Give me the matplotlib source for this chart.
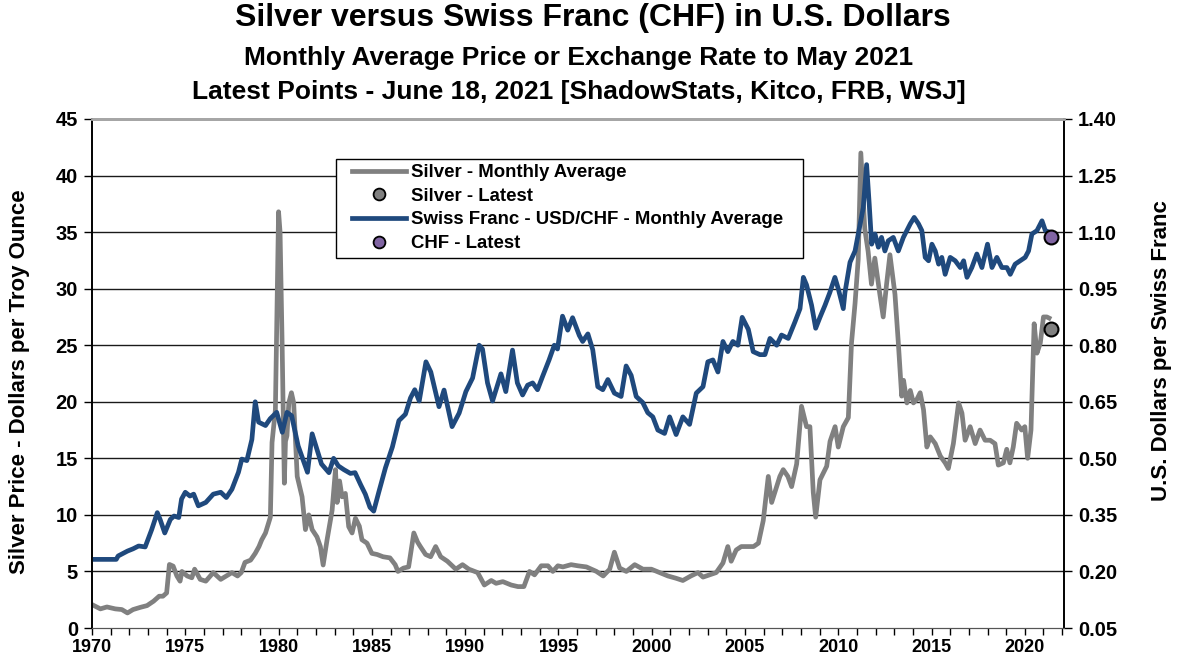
import matplotlib
matplotlib.use("Agg")
import matplotlib.pyplot as plt
from matplotlib.lines import Line2D
from matplotlib.patches import Rectangle

plt.rcParams['font.family'] = ['Liberation Sans', 'DejaVu Sans']
plt.rcParams['font.weight'] = 'bold'

# silver monthly average, dollars per troy ounce (decimal year, value)
silver_t = [1970.0, 1970.45, 1970.8, 1971.25, 1971.6, 1971.9, 1972.2, 1972.6, 1972.95, 1973.3,
            1973.6, 1973.8, 1974.0, 1974.15, 1974.35, 1974.55, 1974.72, 1974.82, 1975.1, 1975.35,
            1975.5, 1975.8, 1976.1, 1976.5, 1976.9, 1977.2, 1977.5, 1977.8, 1978.0, 1978.2,
            1978.5, 1978.75, 1978.95, 1979.1, 1979.3, 1979.56, 1979.65, 1979.83, 1980.0, 1980.08,
            1980.19, 1980.31, 1980.37, 1980.45, 1980.55, 1980.69, 1980.81, 1981.0, 1981.26, 1981.44,
            1981.62, 1981.8, 1982.06, 1982.24, 1982.39, 1982.6, 1982.87, 1983.05, 1983.14, 1983.27,
            1983.4, 1983.58, 1983.76, 1983.94, 1984.12, 1984.33, 1984.47, 1984.74, 1985.0, 1985.28,
            1985.6, 1985.97, 1986.25, 1986.4, 1986.7, 1986.97, 1987.25, 1987.45, 1987.6, 1987.88,
            1988.15, 1988.42, 1988.69, 1989.05, 1989.5, 1989.86, 1990.2, 1990.67, 1991.03, 1991.4,
            1991.66, 1992.02, 1992.47, 1992.83, 1993.15, 1993.45, 1993.72, 1994.08, 1994.44, 1994.7,
            1994.97, 1995.24, 1995.68, 1996.04, 1996.5, 1997.04, 1997.4, 1997.75, 1998.0, 1998.28,
            1998.64, 1999.09, 1999.53, 1999.98, 2000.42, 2000.87, 2001.3, 2001.67, 2002.1, 2002.48,
            2002.75, 2003.1, 2003.46, 2003.82, 2004.08, 2004.26, 2004.53, 2004.8, 2005.0, 2005.46,
            2005.72, 2005.98, 2006.25, 2006.43, 2006.6, 2006.87, 2007.05, 2007.3, 2007.5, 2007.77,
            2008.03, 2008.3, 2008.48, 2008.66, 2008.79, 2009.02, 2009.2, 2009.38, 2009.56, 2009.83,
            2010.0, 2010.27, 2010.54, 2010.71, 2010.9, 2011.07, 2011.21, 2011.42, 2011.6, 2011.78,
            2011.96, 2012.23, 2012.41, 2012.59, 2012.77, 2013.04, 2013.22, 2013.4, 2013.5, 2013.68,
            2013.86, 2014.03, 2014.21, 2014.39, 2014.57, 2014.75, 2014.93, 2015.2, 2015.47, 2015.73,
            2015.9, 2016.17, 2016.45, 2016.63, 2016.8, 2017.07, 2017.34, 2017.6, 2017.87, 2018.14,
            2018.4, 2018.58, 2018.85, 2019.03, 2019.2, 2019.38, 2019.56, 2019.83, 2020.0, 2020.15,
            2020.33, 2020.5, 2020.65, 2020.83, 2021.0, 2021.18, 2021.3]
silver_v = [2.07, 1.69, 1.86, 1.69, 1.63, 1.33, 1.63, 1.83, 1.98, 2.37,
            2.81, 2.81, 3.1, 5.62, 5.47, 4.6, 4.14, 5.0, 4.6, 4.44,
            5.2, 4.3, 4.14, 4.9, 4.3, 4.6, 4.9, 4.6, 4.9, 5.8,
            6.0, 6.6, 7.2, 7.8, 8.4, 9.8, 16.4, 19.3, 36.8, 35.0,
            25.2, 12.8, 16.5, 17.0, 19.9, 20.8, 19.9, 13.4, 11.6, 8.7,
            10.0, 8.7, 8.05, 7.2, 5.57, 7.8, 10.4, 14.0, 11.1, 13.0,
            11.6, 11.9, 8.96, 8.4, 9.7, 9.0, 7.8, 7.5, 6.6, 6.5,
            6.3, 6.2, 5.6, 5.0, 5.3, 5.4, 8.4, 7.6, 7.2, 6.5,
            6.3, 7.2, 6.3, 5.9, 5.2, 5.6, 5.2, 4.9, 3.8, 4.2,
            3.95, 4.1, 3.8, 3.66, 3.66, 5.0, 4.7, 5.5, 5.5, 5.0,
            5.5, 5.4, 5.6, 5.5, 5.4, 5.0, 4.6, 5.2, 6.7, 5.3,
            5.0, 5.6, 5.2, 5.2, 4.9, 4.6, 4.4, 4.2, 4.6, 4.9,
            4.5, 4.7, 4.9, 5.75, 7.2, 5.9, 6.9, 7.2, 7.2, 7.2,
            7.5, 9.5, 13.4, 11.1, 12.0, 13.4, 14.0, 13.4, 12.5, 14.5,
            19.6, 17.8, 17.8, 12.0, 9.8, 13.1, 13.7, 14.3, 16.5, 17.8,
            16.0, 17.8, 18.6, 25.2, 28.7, 32.6, 42.0, 35.3, 33.3, 30.4,
            32.7, 29.5, 27.5, 30.4, 33.0, 29.5, 25.2, 20.5, 21.9, 19.9,
            21.0, 19.9, 20.2, 20.8, 19.3, 16.0, 16.9, 16.3, 15.2, 14.6,
            14.1, 16.3, 19.9, 19.0, 16.6, 17.8, 16.3, 17.5, 16.6, 16.6,
            16.3, 14.4, 14.6, 15.8, 14.6, 16.0, 18.1, 17.5, 17.8, 15.0,
            17.5, 26.9, 24.3, 25.2, 27.5, 27.5, 27.4]

# Swiss franc, USD per CHF, monthly average (decimal year, value)
chf_t = [1970.0, 1971.3, 1971.4, 1971.9, 1972.2, 1972.5, 1972.85, 1973.0, 1973.2, 1973.5,
         1973.65, 1973.9, 1974.2, 1974.4, 1974.65, 1974.8, 1975.0, 1975.25, 1975.45, 1975.7,
         1976.1, 1976.5, 1976.9, 1977.2, 1977.5, 1977.85, 1978.03, 1978.3, 1978.57, 1978.75,
         1978.93, 1979.3, 1979.55, 1979.9, 1980.2, 1980.45, 1980.7, 1981.05, 1981.3, 1981.55,
         1981.8, 1982.05, 1982.3, 1982.7, 1982.95, 1983.2, 1983.5, 1983.85, 1984.1, 1984.4,
         1984.65, 1984.9, 1985.1, 1985.37, 1985.73, 1986.1, 1986.45, 1986.8, 1987.07, 1987.3,
         1987.54, 1987.9, 1988.16, 1988.6, 1988.87, 1989.3, 1989.68, 1990.04, 1990.4, 1990.75,
         1990.93, 1991.2, 1991.47, 1991.92, 1992.18, 1992.54, 1992.8, 1993.08, 1993.35, 1993.62,
         1993.88, 1994.15, 1994.5, 1994.78, 1994.95, 1995.22, 1995.5, 1995.76, 1996.12, 1996.3,
         1996.58, 1996.84, 1997.11, 1997.38, 1997.65, 1998.0, 1998.36, 1998.63, 1998.9, 1999.17,
         1999.52, 1999.79, 2000.06, 2000.33, 2000.69, 2000.96, 2001.31, 2001.67, 2002.03, 2002.39,
         2002.75, 2003.01, 2003.28, 2003.55, 2003.82, 2004.08, 2004.35, 2004.62, 2004.85, 2005.18,
         2005.44, 2005.8, 2006.07, 2006.34, 2006.7, 2006.96, 2007.32, 2007.68, 2007.95, 2008.13,
         2008.3, 2008.57, 2008.79, 2009.02, 2009.29, 2009.55, 2009.82, 2010.0, 2010.27, 2010.36,
         2010.63, 2010.9, 2011.07, 2011.34, 2011.52, 2011.66, 2011.79, 2011.97, 2012.15, 2012.32,
         2012.5, 2012.68, 2012.95, 2013.22, 2013.49, 2013.86, 2014.07, 2014.3, 2014.48, 2014.66,
         2014.84, 2015.02, 2015.2, 2015.38, 2015.55, 2015.73, 2016.0, 2016.27, 2016.54, 2016.72,
         2016.9, 2017.16, 2017.43, 2017.7, 2018.0, 2018.24, 2018.5, 2018.77, 2019.04, 2019.22,
         2019.48, 2019.75, 2020.02, 2020.2, 2020.38, 2020.65, 2020.92, 2021.1, 2021.3]
chf_v = [0.232, 0.232, 0.241, 0.254, 0.26, 0.2675, 0.265, 0.285, 0.311, 0.356,
         0.338, 0.302, 0.338, 0.347, 0.343, 0.392, 0.41, 0.40, 0.405, 0.374,
         0.383, 0.405, 0.41, 0.396, 0.418, 0.463, 0.498, 0.494, 0.55, 0.65,
         0.596, 0.587, 0.605, 0.622, 0.569, 0.622, 0.613, 0.533, 0.498, 0.463,
         0.565, 0.525, 0.485, 0.462, 0.50, 0.48, 0.47, 0.46, 0.462, 0.43,
         0.405, 0.37, 0.36, 0.41, 0.475, 0.53, 0.60, 0.617, 0.66, 0.682,
         0.652, 0.756, 0.729, 0.637, 0.681, 0.584, 0.62, 0.677, 0.713, 0.80,
         0.79, 0.70, 0.652, 0.724, 0.677, 0.787, 0.70, 0.668, 0.694, 0.70,
         0.682, 0.717, 0.761, 0.80, 0.79, 0.877, 0.84, 0.873, 0.826, 0.81,
         0.83, 0.788, 0.69, 0.682, 0.709, 0.673, 0.664, 0.745, 0.72, 0.664,
         0.648, 0.621, 0.61, 0.575, 0.566, 0.61, 0.563, 0.61, 0.59, 0.673,
         0.69, 0.756, 0.761, 0.729, 0.81, 0.783, 0.81, 0.80, 0.874, 0.842,
         0.783, 0.775, 0.775, 0.818, 0.80, 0.827, 0.818, 0.862, 0.897, 0.98,
         0.96, 0.906, 0.845, 0.874, 0.906, 0.94, 0.98, 0.95, 0.897, 0.94,
         1.02, 1.05, 1.095, 1.165, 1.279, 1.174, 1.068, 1.095, 1.06, 1.086,
         1.05, 1.077, 1.086, 1.05, 1.086, 1.122, 1.139, 1.122, 1.104, 1.033,
         1.024, 1.068, 1.05, 1.015, 1.033, 0.988, 1.033, 1.024, 1.006, 1.024,
         0.98, 1.006, 1.042, 1.006, 1.068, 1.006, 1.033, 1.006, 1.006, 0.988,
         1.015, 1.024, 1.033, 1.05, 1.095, 1.104, 1.13, 1.104, 1.10]

# latest points, June 18, 2021
latest_t = 2021.38
silver_latest = 26.4
chf_latest = 1.087

left_ticks = [0, 5, 10, 15, 20, 25, 30, 35, 40, 45]
right_ticks = [0.05, 0.20, 0.35, 0.50, 0.65, 0.80, 0.95, 1.10, 1.25, 1.40]
year_labels = [1970, 1975, 1980, 1985, 1990, 1995, 2000, 2005, 2010, 2015, 2020]

SILVER = "#808080"
CHF = "#1F497D"
PURPLE = "#8064A2"

W, H = 1185, 662
fig = plt.figure(figsize=(W / 100, H / 100), dpi=100)
ax = fig.add_axes([92 / W, 1 - 628 / H, 972 / W, 509 / H])
ax2 = ax.twinx()

ax.plot(silver_t, silver_v, color=SILVER, lw=3.4, solid_joinstyle="round")
ax.plot([latest_t], [silver_latest], "o", ms=10, mfc=SILVER, mec="black", mew=1.5, zorder=5)
ax2.plot(chf_t, chf_v, color=CHF, lw=3.4, solid_joinstyle="round")
ax2.plot([latest_t], [chf_latest], "o", ms=10, mfc=PURPLE, mec="black", mew=1.5, zorder=5)

ax.set_xlim(1970, 2022.1)
ax.set_ylim(0, 45)
ax2.set_ylim(0.05, 1.40)
ax.set_yticks(left_ticks)
ax2.set_yticks(right_ticks)
ax2.set_yticklabels(["%.2f" % v for v in right_ticks])
ax.set_xticks(year_labels)
ax.set_xticks(range(1970, 2023), minor=True)

for a in (ax, ax2):
    a.tick_params(axis="y", length=6, width=1, labelsize=14.5, pad=4)
ax.tick_params(axis="x", which="both", length=5, width=1, labelsize=13, pad=3)

for y in left_ticks[1:-1]:
    ax.axhline(y, color="#1a1a1a", lw=1.0, zorder=0)

for a in (ax, ax2):
    a.spines["top"].set_color("#a6a6a6")
    a.spines["top"].set_linewidth(2)
    a.spines["left"].set_linewidth(1.2)
    a.spines["right"].set_linewidth(1.2)
    a.spines["bottom"].set_color("#555555")

ax.set_ylabel("Silver Price - Dollars per Troy Ounce", fontsize=16, fontweight="bold")
ax.yaxis.set_label_coords(-0.064, 0.483)
ax2.set_ylabel("U.S. Dollars per Swiss Franc", fontsize=16, fontweight="bold")
ax2.yaxis.set_label_coords(1.09, 0.546)

fig.text(0.5, 1 - 18 / H, "Silver versus Swiss Franc (CHF) in U.S. Dollars",
         ha="center", va="center", fontsize=23, fontweight="bold")
fig.text(579 / W, 1 - 58 / H, "Monthly Average Price or Exchange Rate to May 2021",
         ha="center", va="center", fontsize=19, fontweight="bold")
fig.text(579 / W, 1 - 92 / H, "Latest Points - June 18, 2021 [ShadowStats, Kitco, FRB, WSJ]",
         ha="center", va="center", fontsize=19, fontweight="bold")

# legend box drawn by hand (wide side margins, tight top/bottom)
ax2.add_patch(Rectangle((336 / W, 1 - 258 / H), 467 / W, 99 / H, transform=fig.transFigure,
                        facecolor="white", edgecolor="black", lw=1.0, zorder=4, clip_on=False))
handles = [
    Line2D([], [], color=SILVER, lw=3.4),
    Line2D([], [], ls="", marker="o", ms=8.5, mfc=SILVER, mec="black", mew=1.3),
    Line2D([], [], color=CHF, lw=3.4),
    Line2D([], [], ls="", marker="o", ms=8.5, mfc=PURPLE, mec="black", mew=1.3),
]
labels = ["Silver - Monthly Average", "Silver - Latest",
          "Swiss Franc - USD/CHF - Monthly Average", "CHF - Latest"]
leg = ax2.legend(handles, labels, loc="upper left", bbox_to_anchor=(352 / W, 1 - 164 / H),
                 bbox_transform=fig.transFigure, frameon=False,
                 prop={"weight": "bold", "size": 13.4}, handlelength=2.9, handletextpad=0.27,
                 labelspacing=0.36, borderpad=0, borderaxespad=0)
leg.set_zorder(6)

fig.savefig("out.png", dpi=100)
